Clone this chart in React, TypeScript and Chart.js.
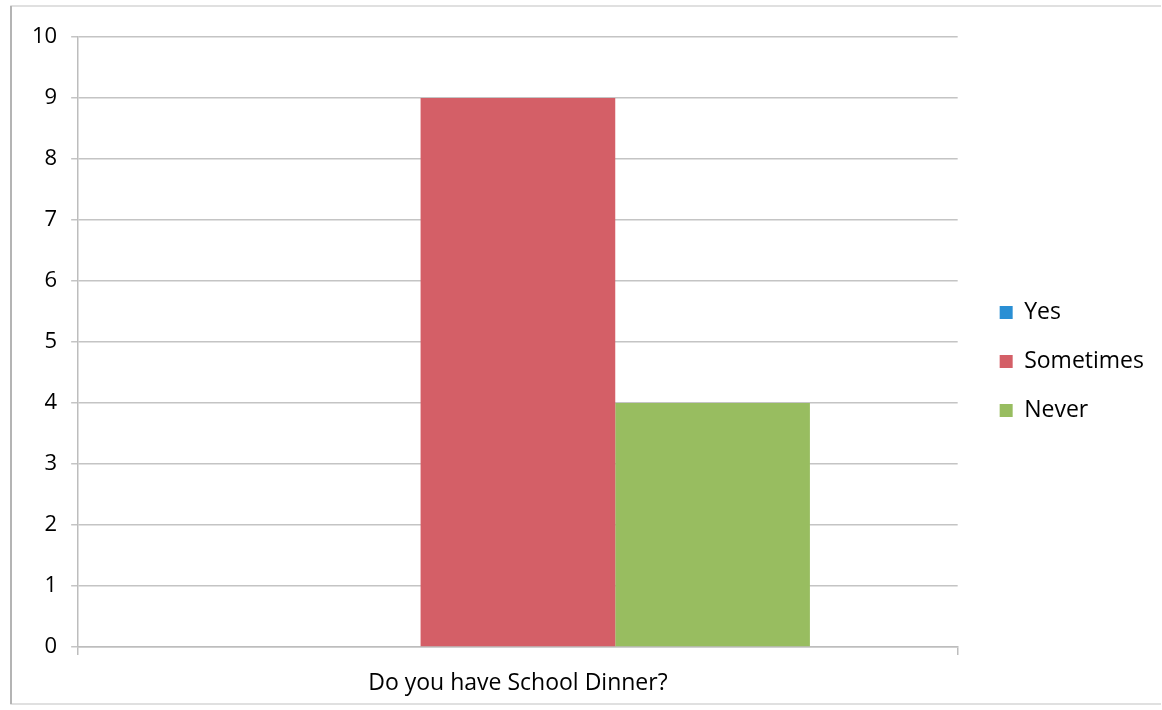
import React, { useEffect, useRef } from "react";
import { Chart, registerables } from "chart.js";

Chart.register(...registerables);

const categories = ["Do you have School Dinner?"];
const seriesNames = ["Yes", "Sometimes", "Never"];
const yesValues = [0];
const sometimesValues = [9];
const neverValues = [4];
const seriesColors = ["#2a8fd4", "#d45f67", "#98bd60"];
const yTicks = [0, 1, 2, 3, 4, 5, 6, 7, 8, 9, 10];

const FONT = "'Open Sans', 'DejaVu Sans', sans-serif";

const framePlugin = {
  id: "frame",
  beforeDraw(chart: any) {
    const ctx = chart.ctx;
    ctx.save();
    ctx.fillStyle = "#ffffff";
    ctx.fillRect(0, 0, chart.width, chart.height);
    ctx.strokeStyle = "#d6d6d6";
    ctx.lineWidth = 1.5;
    ctx.beginPath();
    ctx.moveTo(1161, 6);
    ctx.lineTo(11, 6);
    ctx.lineTo(11, 704);
    ctx.lineTo(1161, 704);
    ctx.stroke();
    ctx.strokeStyle = "#b4b4b4";
    ctx.lineWidth = 2;
    ctx.beginPath();
    ctx.moveTo(11, 6);
    ctx.lineTo(11, 704);
    ctx.stroke();
    ctx.restore();
  },
};

export default function App() {
  const ref = useRef<HTMLCanvasElement | null>(null);

  useEffect(() => {
    if (!ref.current) return;
    const chart = new Chart(ref.current, {
      type: "bar",
      data: {
        labels: categories,
        datasets: [
          { label: seriesNames[0], data: yesValues, backgroundColor: seriesColors[0] },
          { label: seriesNames[1], data: sometimesValues, backgroundColor: seriesColors[1] },
          { label: seriesNames[2], data: neverValues, backgroundColor: seriesColors[2] },
        ],
      },
      options: {
        responsive: false,
        animation: false,
        layout: { padding: { left: 18, top: 37, right: 8, bottom: 0 } },
        datasets: {
          bar: { barPercentage: 1, categoryPercentage: 0.664 },
        },
        scales: {
          x: {
            grid: {
              display: true,
              drawOnChartArea: false,
              drawTicks: true,
              tickLength: 8,
              color: "#bdbdbd",
              lineWidth: 1.5,
            },
            border: { display: true, color: "#bdbdbd", width: 1.5 },
            ticks: {
              color: "#000000",
              padding: 15,
              font: { family: FONT, size: 23 },
            },
            afterFit: (scale: any) => {
              scale.height = 63;
            },
          },
          y: {
            min: 0,
            max: 10,
            afterBuildTicks: (scale: any) => {
              scale.ticks = yTicks.map((v) => ({ value: v }));
            },
            grid: {
              color: "#c4c4c4",
              lineWidth: 1.5,
              tickLength: 7,
            },
            border: { display: true, color: "#bdbdbd", width: 1.5 },
            ticks: {
              color: "#000000",
              padding: 14,
              font: { family: FONT, size: 22 },
            },
          },
          gap: {
            type: "linear",
            position: "right",
            display: true,
            grid: { display: false, drawTicks: false },
            border: { display: false },
            ticks: { display: false },
            afterFit: (scale: any) => {
              scale.width = 16;
            },
          } as any,
        },
        plugins: {
          legend: {
            position: "right",
            align: "center",
            fullSize: false,
            title: {
              display: true,
              text: " ",
              font: { family: FONT, size: 10, lineHeight: 1 },
              padding: { top: 0, bottom: 29 },
            },
            labels: {
              boxWidth: 13,
              boxHeight: 13,
              padding: 26,
              color: "#000000",
              font: { family: FONT, size: 23 },
            },
          },
          tooltip: { enabled: false },
        },
      },
      plugins: [framePlugin],
    } as any);
    return () => chart.destroy();
  }, []);

  return (
    <div style={{ position: "absolute", left: 0, top: 0, width: 1162, height: 710 }}>
      <canvas ref={ref} width={1162} height={710} style={{ display: "block" }} />
    </div>
  );
}
